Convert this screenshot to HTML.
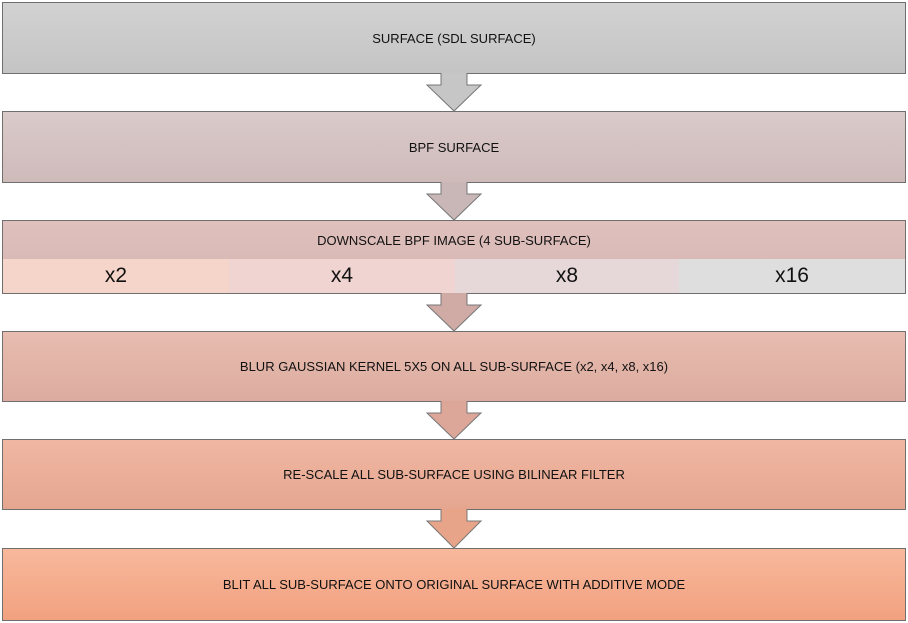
<!DOCTYPE html>
<html><head><style>
body{margin:0;width:908px;height:623px;background:#fff;position:relative;font-family:"Liberation Sans Narrow","Liberation Sans",sans-serif;overflow:hidden}
.b{position:absolute;left:2px;width:902px;border:1px solid #6f6f6f;display:flex;align-items:center;justify-content:center;font-size:13px;color:#111}
.s{position:absolute;top:259px;height:34px;display:flex;align-items:center;justify-content:center;font-size:21px;color:#111}
svg{position:absolute;left:0;top:0}
</style></head><body>
<div class="b" style="top:2px;height:70px;background:linear-gradient(#d2d2d2,#c4c4c4)">SURFACE (SDL SURFACE)</div>
<div class="b" style="top:111px;height:70px;background:linear-gradient(#dacaca,#cfbaba)">BPF SURFACE</div>
<div class="b" style="top:220px;height:72px;align-items:flex-start;padding-top:0;background:linear-gradient(#dfc0bc,#d5b5b1)"><span style="margin-top:12px">DOWNSCALE BPF IMAGE (4 SUB-SURFACE)</span></div>
<div class="s" style="left:3px;width:226px;background:#f5d4c9">x2</div>
<div class="s" style="left:229px;width:226px;background:#f0d4d1">x4</div>
<div class="s" style="left:455px;width:224px;background:#e6d8d8">x8</div>
<div class="s" style="left:679px;width:226px;background:#dedede">x16</div>
<div class="b" style="top:331px;height:69px;background:linear-gradient(#e8bcb0,#dcab9f)">BLUR GAUSSIAN KERNEL 5X5 ON ALL SUB-SURFACE (x2, x4, x8, x16)</div>
<div class="b" style="top:439px;height:69px;background:linear-gradient(#f0b7a2,#e5a690)">RE-SCALE ALL SUB-SURFACE USING BILINEAR FILTER</div>
<div class="b" style="top:548px;height:71px;background:linear-gradient(#f8b89c,#f2a17f)">BLIT ALL SUB-SURFACE ONTO ORIGINAL SURFACE WITH ADDITIVE MODE</div>
<svg width="908" height="623">
<g stroke="#777" stroke-width="1">
<path d="M441 73V85H427L454 111L481 85H467V73" fill="#c6c6c6"/>
<path d="M441 182V194H427L454 220L481 194H467V182" fill="#c9b6b6"/>
<path d="M441 293V305H427L454 331L481 305H467V293" fill="#d0aaa5"/>
<path d="M441 401V413H427L454 439L481 413H467V401" fill="#dca798"/>
<path d="M441 509V521H427L454 548L481 521H467V509" fill="#e8a488"/>
</g>
</svg>
</body></html>
